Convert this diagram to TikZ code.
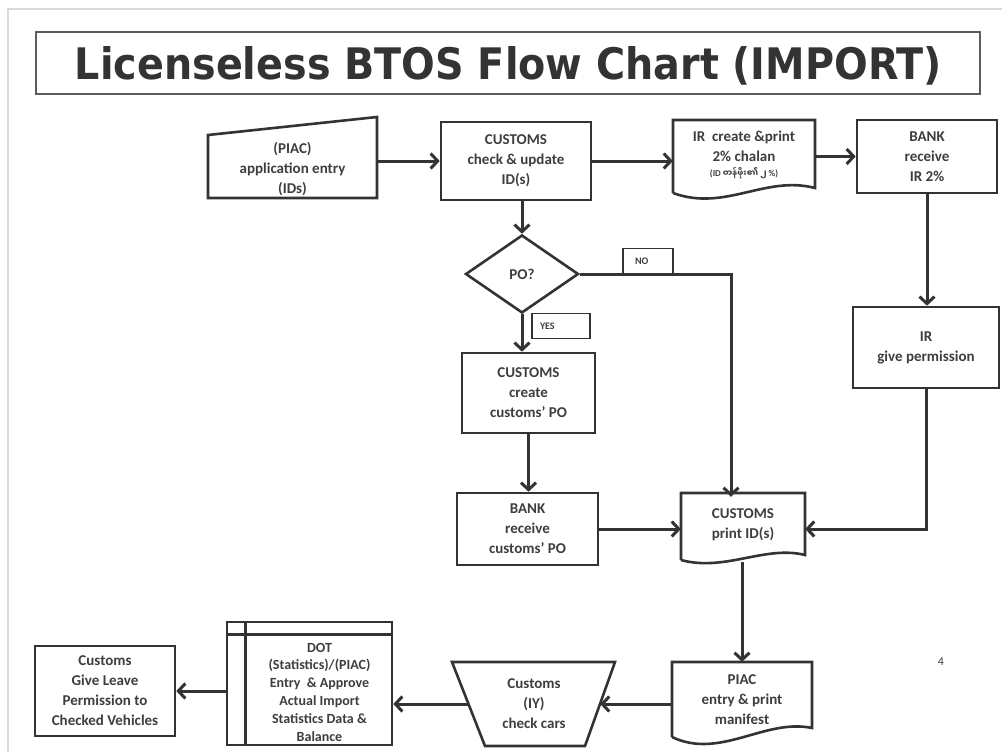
\documentclass[tikz,border=0pt]{standalone}
\usepackage{fontspec}
\setmainfont{Carlito}
\newfontfamily\titlefont{DejaVu Sans}
\newfontfamily\mmfont[Script=Myanmar]{Noto Sans Myanmar UI}
\usetikzlibrary{arrows.meta,shapes.geometric}
\definecolor{ink}{HTML}{333333}
\definecolor{txt}{HTML}{3E3E3E}
\definecolor{slideframe}{HTML}{DADADA}
\tikzset{
  box/.style={draw=ink, line width=2.6pt, fill=white, align=center, inner sep=0pt,
    font=\fontsize{15}{20}\selectfont\bfseries, text=txt},
  lbl/.style={align=center, inner sep=0pt, font=\fontsize{15}{20}\selectfont\bfseries, text=txt},
  outline/.style={draw=ink, line width=2.6pt, line join=miter, fill=white},
  tag/.style={draw=ink, line width=1.4pt, inner ysep=0pt, minimum height=25pt, align=left,
    font=\fontsize{10}{12}\selectfont\bfseries, text=txt},
  arr/.style={draw=ink, line width=3pt, -{Straight Barb[length=7pt,width=15pt]}},
}
\begin{document}
\begin{tikzpicture}[x=1pt,y=-1pt]
\useasboundingbox (0,0) rectangle (1002,752);
\fill[white] (0,0) rectangle (1002,752);
% slide edge
\draw[slideframe, line width=2pt] (8,752) -- (8,9) -- (1002,9);

% title
\node[draw=ink!80, line width=1.5pt, minimum width=944pt, minimum height=62pt, inner sep=0pt] (title) at (508,63) {};
\node[anchor=base, inner sep=0pt, text=ink] (titletext) at (508.5,80)
  {\resizebox{867pt}{33pt}{\titlefont\bfseries Licenseless BTOS Flow Chart (IMPORT)}};

% manual input: application entry
\draw[outline] (208,135) -- (377,117) -- (377,198) -- (208,198) -- cycle;
\node[lbl, minimum width=169pt, minimum height=58pt] (piac) at (292.5,169) {(PIAC)\\application entry\\(IDs)};

% customs check
\node[box, minimum width=150pt, minimum height=78pt] (check) at (516,161) {CUSTOMS\\check \& update\\ID(s)};

% document: IR chalan
\draw[outline] (673,193) -- (673,120) -- (815,120) -- (815,188)
  .. controls (765,175) and (725,212) .. (673,193);
\node[lbl, minimum width=142pt, minimum height=73pt] (ir) at (744,155)
  {IR\ \ create \&print\\2\% chalan\\[-5pt]{\fontsize{9}{10}\selectfont (ID {\mmfont\fontsize{8.5}{10}\selectfont တန်ဖိုး၏ ၂} \%)}};

% bank receive IR 2%
\node[box, minimum width=140pt, minimum height=73pt] (bank) at (927,156.5) {BANK\\receive\\IR 2\%};

% decision
\node[draw=ink, line width=2.6pt, diamond, aspect=1.45, minimum width=113pt, minimum height=78pt,
  inner sep=0pt, fill=white, font=\fontsize{15}{20}\selectfont\bfseries, text=txt] (po) at (522,274) {PO?};
\node[tag, inner xsep=12pt, text width=26pt] (no) at (648,261) {NO};
\node[tag, inner xsep=8pt, text width=42pt] (yes) at (561,326) {YES};

% customs create PO
\node[box, minimum width=133pt, minimum height=80pt] (create) at (528.5,393) {CUSTOMS\\create\\customs’ PO};

% IR give permission
\node[box, minimum width=146pt, minimum height=81pt] (irperm) at (926,347.5) {IR\\give permission};

% bank receive customs' PO
\node[box, minimum width=141pt, minimum height=72pt] (bankpo) at (527.5,529) {BANK\\receive\\customs’ PO};

% document: customs print ID(s)
\draw[outline] (681,560) -- (681,493) -- (805,493) -- (805,555)
  .. controls (765,545) and (725,572) .. (681,560);
\node[lbl, minimum width=124pt, minimum height=64pt] (printid) at (743,525) {CUSTOMS\\print ID(s)};
\coordinate (nocorner) at (731,274);

% document: PIAC manifest
\draw[outline] (672,737) -- (672,662) -- (812,662) -- (812,728)
  .. controls (765,718) and (720,760) .. (672,737);
\node[lbl, minimum width=140pt, minimum height=75pt] (manifest) at (742,699.5) {PIAC\\entry \& print\\manifest};

% manual operation: check cars
\draw[outline] (452,662) -- (615,662) -- (585,746) -- (485,746) -- cycle;
\node[lbl, minimum width=132pt, minimum height=60pt] (cars) at (534,704) {Customs\\(IY)\\check cars};

% DOT record
\node[box, minimum width=165pt, minimum height=123pt] (dot) at (309.5,683.5) {};
\draw[ink, line width=2.6pt] (dot.north west) ++(20,0) -- ++(0,123);
\draw[ink, line width=2.6pt] (dot.north west) ++(0,14) -- ++(165,0);
\node[lbl, font=\fontsize{14}{17.8}\selectfont\bfseries] (dottext) at (319.5,692)
  {DOT\\(Statistics)/(PIAC)\\Entry\ \ \& Approve\\Actual Import\\Statistics Data \&\\Balance};

% leave permission
\node[box, minimum width=140pt, minimum height=90pt] (leave) at (105,691) {Customs\\Give Leave\\Permission to\\Checked Vehicles};

% page number
\node[text=txt, font=\fontsize{12}{14}\selectfont] (pnum) at (941,662) {4};

% connectors
\draw[arr] (piac.east |- check.west) -- (check.west);
\draw[arr] (check.east) -- (check.east -| ir.west);
\draw[arr] (ir.east |- bank.west) -- (bank.west);
\draw[arr] (po.north |- check.south) -- (po.north);
\draw[arr] (po.south) -- (po.south |- create.north);
\draw[arr] (po.east) -- (nocorner) -- (nocorner |- printid.north) -- ++(0,4);
\draw[arr] (bank.south) -- (bank.south |- irperm.north);
\draw[arr] (create.south) -- (create.south |- bankpo.north);
\draw[arr] (bankpo.east) -- (bankpo.east -| printid.west);
\draw[arr] (irperm.south) -- (irperm.south |- bankpo.east) -- (bankpo.east -| printid.east);
\draw[arr] (manifest.north |- 0,562) -- (manifest.north);
\draw[arr] (cars.east -| manifest.west) -- (cars.east);
\draw[arr] (cars.west) -- (cars.west -| dot.east);
\draw[arr] (leave.east -| dot.west) -- (leave.east);
\end{tikzpicture}
\end{document}
